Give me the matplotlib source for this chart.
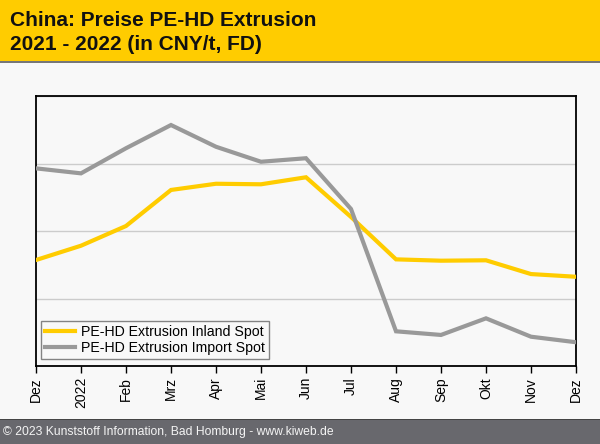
import matplotlib
matplotlib.use("Agg")
import matplotlib.pyplot as plt
from matplotlib.patches import Rectangle
from matplotlib.lines import Line2D

plt.rcParams['font.family'] = ['Liberation Sans', 'DejaVu Sans']

months = ["Dez", "2022", "Feb", "Mrz", "Apr", "Mai", "Jun", "Jul", "Aug", "Sep", "Okt", "Nov", "Dez"]
inland = [8285, 8391, 8537, 8804, 8850, 8846, 8898, 8604, 8290, 8280, 8283, 8181, 8161]
imports = [8964, 8927, 9113, 9285, 9124, 9013, 9039, 8663, 7757, 7730, 7853, 7717, 7676]
series_names = ["PE-HD Extrusion Inland Spot", "PE-HD Extrusion Import Spot"]
title_lines = ["China: Preise PE-HD Extrusion", "2021 - 2022 (in CNY/t, FD)"]
footer = "\u00a9 2023 Kunststoff Information, Bad Homburg - www.kiweb.de"
y_grid = [7500, 8000, 8500, 9000, 9500]

W, H = 600, 444
fig = plt.figure(figsize=(6, 4.44), dpi=100)
fig.patch.set_facecolor("#f8f8f8")

# header band
fig.add_artist(Rectangle((0, 1 - 61 / H), 1, 61 / H, transform=fig.transFigure,
                         facecolor="#FFCC00", edgecolor="none", zorder=0))
fig.add_artist(Rectangle((0, 1 - 63 / H), 1, 2 / H, transform=fig.transFigure,
                         facecolor="#777777", edgecolor="none", zorder=0))
fig.text(10 / W, 1 - 20 / H, title_lines[0], fontsize=15, fontweight="bold",
         va="center", ha="left", color="#111111")
fig.text(10 / W, 1 - 44 / H, title_lines[1], fontsize=15, fontweight="bold",
         va="center", ha="left", color="#111111")

# footer band
fig.add_artist(Rectangle((0, 0), 1, 25 / H, transform=fig.transFigure,
                         facecolor="#68686d", edgecolor="none", zorder=0))
fig.add_artist(Rectangle((0, 24 / H), 1, 1.5 / H, transform=fig.transFigure,
                         facecolor="#444444", edgecolor="none", zorder=0))
fig.text(3 / W, 12 / H, footer, fontsize=8.7, va="center", ha="left", color="#f4f4f4")

ax = fig.add_axes([36 / W, (H - 366) / H, 540 / W, 270 / H])
ax.set_facecolor("#f8f8f8")
x = list(range(len(months)))
ax.plot(x, inland, color="#FFCC00", lw=3, solid_joinstyle="miter", zorder=3)
ax.plot(x, imports, color="#999999", lw=3, solid_joinstyle="miter", zorder=3)
ax.set_xlim(0, len(months) - 1)
ax.set_ylim(y_grid[0], y_grid[-1])
ax.set_yticks(y_grid)
ax.set_yticklabels([])
ax.tick_params(axis="y", length=0)
ax.grid(axis="y", color="#cccccc", lw=1)
ax.set_axisbelow(True)
ax.set_xticks(x)
ax.set_xticklabels(months, rotation=90, fontsize=10)
ax.tick_params(axis="x", length=5, width=1, color="black", pad=3)
for s in ax.spines.values():
    s.set_linewidth(1.3)
    s.set_color("black")

handles = [Line2D([], [], color="#FFCC00", lw=3), Line2D([], [], color="#999999", lw=3)]
leg = ax.legend(handles, series_names, loc="lower left", bbox_to_anchor=(5 / 540, 7 / 270),
                fontsize=10.2, frameon=True, fancybox=False, borderaxespad=0,
                handlelength=2.15, handletextpad=0.4, borderpad=0.28, labelspacing=0.15)
leg.get_frame().set_edgecolor("#666666")
leg.get_frame().set_facecolor("#f8f8f8")
leg.get_frame().set_linewidth(1)

fig.savefig("out.png", dpi=100, facecolor=fig.get_facecolor())
